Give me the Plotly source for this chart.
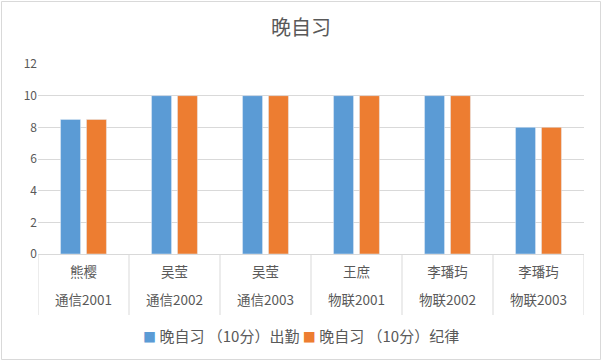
import plotly.graph_objects as go

names = ["熊樱", "吴莹", "吴莹", "王庶", "李璠玙", "李璠玙"]
classes = ["通信2001", "通信2002", "通信2003", "物联2001", "物联2002", "物联2003"]
attendance = [8.5, 10, 10, 10, 10, 8]
discipline = [8.5, 10, 10, 10, 10, 8]
series_names = ["晚自习 （10分）出勤", "晚自习 （10分）纪律"]
colors = ["#5b9bd5", "#ed7d31"]
y_ticks = [0, 2, 4, 6, 8, 10, 12]

FONT = "Noto Sans CJK SC, Noto Sans, sans-serif"
GREY = "#595959"
LINE = "#d9d9d9"

fig = go.Figure()
for vals, nm, col in zip([attendance, discipline], series_names, colors):
    fig.add_trace(go.Bar(x=classes, y=vals, name=nm, marker_color=col, showlegend=False))

W, H = 602, 361
ml, mr, mt, mb = 38, 18, 64, 107
pw, ph = W - ml - mr, H - mt - mb

ticktext = [f"<span style='font-size:13.5px'>{n}</span><br><span style='font-size:13.5px'>{c}</span>"
            for n, c in zip(names, classes)]

fig.update_layout(
    width=W, height=H,
    margin=dict(l=ml, r=mr, t=mt, b=mb, autoexpand=False),
    paper_bgcolor="white", plot_bgcolor="white",
    font=dict(family=FONT, color=GREY, size=13),
    title=dict(text="晚自习", x=0.5, xanchor="center", y=1 - 28 / H, yanchor="middle",
               yref="container", automargin=False,
               font=dict(size=20, color=GREY, family=FONT)),
    barmode="group", bargap=0.43, bargroupgap=0.23,
    xaxis=dict(type="category", tickvals=classes, ticktext=ticktext, automargin=False,
               showgrid=False, showline=True, linecolor=LINE, linewidth=1, ticks="",
               tickfont=dict(size=21.5, color=GREY), ticklabelstandoff=-4,
               range=[-0.5, len(classes) - 0.5]),
    yaxis=dict(range=[0, 12], tickvals=y_ticks, showgrid=True, gridcolor=LINE, automargin=False,
               gridwidth=1, zeroline=False, showline=False, ticks="",
               tickfont=dict(size=12, color=GREY)),
)

# category divider lines below the axis (at category boundaries)
for i in range(len(classes) + 1):
    fig.add_shape(type="line", xref="x", yref="paper", x0=i - 0.5, x1=i - 0.5,
                  y0=0, y1=-(315 - 254) / ph, line=dict(color=LINE, width=1))

# legend as text with coloured squares
legend_text = " ".join(
    f"<span style='color:{c};font-size:13px'>■</span> {n}" for n, c in zip(series_names, colors))
fig.add_annotation(text=legend_text, xref="paper", yref="paper", x=(300.5 - ml) / pw,
                   y=-(335 - 254) / ph, xanchor="center", yanchor="middle", showarrow=False,
                   font=dict(size=15, color=GREY, family=FONT))

# outer chart border
fig.add_shape(type="rect", xref="paper", yref="paper",
              x0=(1.5 - ml) / pw, x1=(W - 1.5 - ml) / pw,
              y0=-(mb - 1.5) / ph, y1=1 + (mt - 1.5) / ph,
              line=dict(color=LINE, width=1), layer="below")

fig.write_html("out.html", config={"displayModeBar": False},
               post_script="document.body.style.margin='0';")
